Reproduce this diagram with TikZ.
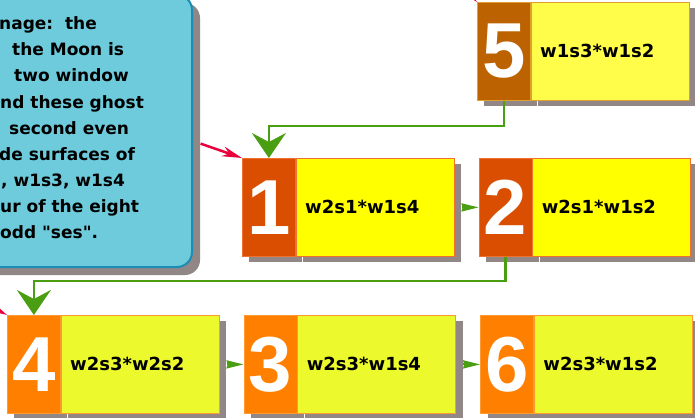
\documentclass[tikz,border=0pt]{standalone}
\usepackage{fontspec}
\setmainfont{DejaVu Sans}
\newfontfamily\numfont{Liberation Sans}
\usepackage{tikz}
\usetikzlibrary{positioning,arrows.meta,shadows}

\definecolor{calloutfill}{HTML}{6ECBDC}
\definecolor{calloutline}{HTML}{1C8DB4}
\definecolor{shade}{HTML}{918787}
\definecolor{flowgreen}{HTML}{4A9E12}
\definecolor{linkred}{HTML}{E8003C}
\definecolor{rustA}{HTML}{BD6200}
\definecolor{lemonA}{HTML}{FFFC4A}
\definecolor{edgeA}{HTML}{E0A030}
\definecolor{rustB}{HTML}{D94E00}
\definecolor{lemonB}{HTML}{FFFF00}
\definecolor{edgeB}{HTML}{F07030}
\definecolor{rustC}{HTML}{FF7F00}
\definecolor{lemonC}{HTML}{ECF92C}
\definecolor{edgeC}{HTML}{FF9A30}

\begin{document}
\begin{tikzpicture}[ x=1pt, y=-1pt,
  callout/.style={fill=calloutfill, draw=calloutline, line width=2pt, rounded corners=15pt,
    general shadow={fill=shade, shadow xshift=8pt, shadow yshift=-8pt}},
  notetext/.style={font=\bfseries\fontsize{17}{20}\selectfont, text=black, inner sep=0pt},
  numbox/.style 2 args={fill=#1, draw=#2, line width=0.8pt, minimum width=53pt, minimum height=98pt,
    inner sep=0pt, text=white, font=\numfont\bfseries\fontsize{78}{78}\selectfont,
    general shadow={fill=shade, shadow xshift=7pt, shadow yshift=-6pt}},
  textbox/.style 2 args={fill=#1, draw=#2, line width=0.8pt, minimum width=158pt, minimum height=98pt,
    text width=140pt, inner xsep=9pt, inner ysep=0pt, align=left,
    font=\bfseries\fontsize{18}{22}\selectfont,
    general shadow={fill=shade, shadow xshift=7pt, shadow yshift=-6pt}},
  flow/.style={draw=flowgreen, line width=2.5pt, -{Stealth[length=25pt,width=34pt,inset=9pt]}},
  hop/.style={draw=flowgreen, line width=2pt, shorten <=7pt, -{Stealth[length=17pt,width=8pt,inset=1pt]}},
  link/.style={draw=linkred, line width=2.5pt, -{Stealth[length=20pt,width=10pt]}} ]

\useasboundingbox (0,0) rectangle (695,417);
\clip (0,0) rectangle (695,417);

%Note
\node[callout, anchor=south east, minimum width=400pt, minimum height=272pt] (callout) at (193,268) {};
\foreach \i/\x/\y/\t in {1/-1/30/{nage:\ \ the}, 2/12/56/{the Moon is}, 3/14/82/{two window},
    4/0/108/{nd these ghost}, 5/9/134/{second even}, 6/-1/160/{de surfaces of},
    7/1/186/{, w1s3, w1s4}, 8/0/212/{ur of the eight},
    9/0/238/{odd \textquotedbl ses\textquotedbl.}}
  \node[notetext, anchor=base west] (note\i) at (\x,\y) {\t};

%Steps
\node[numbox={rustA}{edgeA}, anchor=north west] (n5) at (477,2) {5};
\node[textbox={lemonA}{edgeA}, right=0pt of n5] (l5) {w1s3*w1s2};

\node[numbox={rustB}{edgeB}, anchor=north west] (n1) at (242,158) {1};
\node[textbox={lemonB}{edgeB}, right=0pt of n1] (l1) {w2s1*w1s4};
\node[numbox={rustB}{edgeB}, right=24pt of l1] (n2) {2};
\node[textbox={lemonB}{edgeB}, right=0pt of n2] (l2) {w2s1*w1s2};

\node[numbox={rustC}{edgeC}, anchor=north west] (n4) at (7,315) {4};
\node[textbox={lemonC}{edgeC}, right=0pt of n4] (l4) {w2s3*w2s2};
\node[numbox={rustC}{edgeC}, right=24pt of l4] (n3) {3};
\node[textbox={lemonC}{edgeC}, right=0pt of n3] (l3) {w2s3*w1s4};
\node[numbox={rustC}{edgeC}, right=24pt of l3] (n6) {6};
\node[textbox={lemonC}{edgeC}, right=0pt of n6] (l6) {w2s3*w1s2};

%Flow
\draw[flow] (n5.south) -- ++(0,25) -| (n1.north);
\draw[flow] (n2.south) -- ++(0,24) -| (n4.north);
\draw[hop] (l1.east) -- (n2.west);
\draw[hop] (l4.east) -- (n3.west);
\draw[hop] (l3.east) -- (n6.west);

%Links
\coordinate (from5) at (440,-35);
\coordinate (from4) at (-40,290);
\draw[link, shorten <=8pt] ([yshift=-10pt]callout.east) -- (n1.north west);
\draw[link] (from5) -- (n5.north west);
\draw[link] (from4) -- (n4.north west);

\end{tikzpicture}
\end{document}
